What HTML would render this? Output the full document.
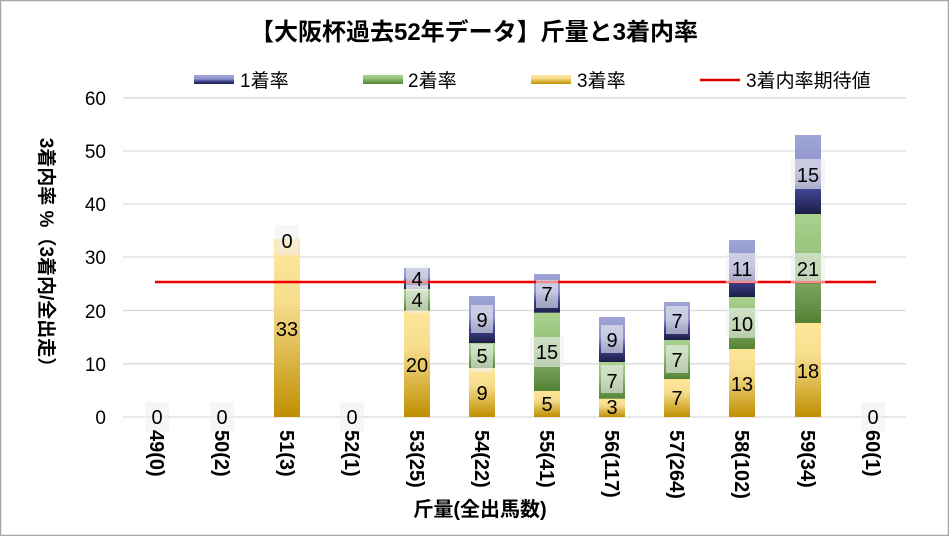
<!DOCTYPE html>
<html><head><meta charset="utf-8"><style>
body{margin:0;background:#fff}
svg{display:block;font-family:"Liberation Sans","Noto Sans CJK JP",sans-serif}
</style></head><body>
<svg width="949" height="536" viewBox="0 0 949 536" xmlns="http://www.w3.org/2000/svg">
<defs>
<linearGradient id="gy" x1="0" y1="0" x2="0" y2="1"><stop offset="0" stop-color="#ffe699"/><stop offset="0.35" stop-color="#f7dd8e"/><stop offset="1" stop-color="#bf8f00"/></linearGradient>
<linearGradient id="gg" x1="0" y1="0" x2="0" y2="1"><stop offset="0" stop-color="#a9d18e"/><stop offset="0.35" stop-color="#98c47c"/><stop offset="1" stop-color="#548235"/></linearGradient>
<linearGradient id="gb" x1="0" y1="0" x2="0" y2="1"><stop offset="0" stop-color="#a0a5d6"/><stop offset="0.45" stop-color="#8d92cb"/><stop offset="0.7" stop-color="#3f4592"/><stop offset="1" stop-color="#1c1d45"/></linearGradient>
</defs>
<rect x="0.5" y="0.5" width="948" height="535" fill="#fff" stroke="#a6a6a6" stroke-width="1.5"/>
<text x="474" y="40" text-anchor="middle" font-size="24" font-weight="bold">【大阪杯過去52年データ】斤量と3着内率</text>
<!-- legend -->
<rect x="194" y="75" width="40" height="9" fill="url(#gb)"/><text x="240" y="87" font-size="19">1着率</text>
<rect x="363" y="75" width="40" height="9" fill="url(#gg)"/><text x="408" y="87" font-size="19">2着率</text>
<rect x="531" y="75" width="40" height="9" fill="url(#gy)"/><text x="577" y="87" font-size="19">3着率</text>
<line x1="700" y1="80" x2="740" y2="80" stroke="#e00000" stroke-width="2.5"/><text x="746" y="87" font-size="19">3着内率期待値</text>
<!-- grid -->
<g stroke="#d9d9d9" stroke-width="1.3">
<line x1="123" y1="97.8" x2="906" y2="97.8"/><line x1="123" y1="151" x2="906" y2="151"/><line x1="123" y1="204" x2="906" y2="204"/><line x1="123" y1="257" x2="906" y2="257"/><line x1="123" y1="310.5" x2="906" y2="310.5"/><line x1="123" y1="363.8" x2="906" y2="363.8"/><line x1="123" y1="417" x2="906" y2="417"/>
</g>
<g font-size="19" text-anchor="end">
<text x="106" y="105">60</text><text x="106" y="158">50</text><text x="106" y="211">40</text><text x="106" y="264">30</text><text x="106" y="318">20</text><text x="106" y="371">10</text><text x="106" y="424">0</text>
</g>
<text transform="translate(40,257) rotate(90)" text-anchor="middle" font-size="19" font-weight="bold">3着内率 %（3着内/全出走）</text>
<!-- bars -->
<g>
<rect x="274" y="239" width="26" height="178" fill="url(#gy)"/>
<rect x="404" y="310.6" width="26" height="106.4" fill="url(#gy)"/>
<rect x="404" y="289" width="26" height="21.6" fill="url(#gg)"/>
<rect x="404" y="268" width="26" height="21" fill="url(#gb)"/>
<rect x="469" y="368" width="26" height="49" fill="url(#gy)"/>
<rect x="469" y="343" width="26" height="25" fill="url(#gg)"/>
<rect x="469" y="296" width="26" height="47" fill="url(#gb)"/>
<rect x="534" y="391" width="26" height="26" fill="url(#gy)"/>
<rect x="534" y="312.7" width="26" height="78.3" fill="url(#gg)"/>
<rect x="534" y="274" width="26" height="38.7" fill="url(#gb)"/>
<rect x="599" y="398.7" width="26" height="18.3" fill="url(#gy)"/>
<rect x="599" y="362" width="26" height="36.7" fill="url(#gg)"/>
<rect x="599" y="317" width="26" height="45" fill="url(#gb)"/>
<rect x="664" y="379" width="26" height="38" fill="url(#gy)"/>
<rect x="664" y="340" width="26" height="39" fill="url(#gg)"/>
<rect x="664" y="302" width="26" height="38" fill="url(#gb)"/>
<rect x="729" y="349" width="26" height="68" fill="url(#gy)"/>
<rect x="729" y="297" width="26" height="52" fill="url(#gg)"/>
<rect x="729" y="240" width="26" height="57" fill="url(#gb)"/>
<rect x="795" y="323" width="26" height="94" fill="url(#gy)"/>
<rect x="795" y="214" width="26" height="109" fill="url(#gg)"/>
<rect x="795" y="135" width="26" height="79" fill="url(#gb)"/>
</g>
<line x1="155" y1="282" x2="876" y2="282" stroke="#ee0000" stroke-width="2.5"/>
<!-- data labels -->
<g font-size="20" text-anchor="middle">
<g fill="rgba(240,240,240,0.6)">
<rect x="145" y="402" width="24" height="30"/><rect x="210" y="402" width="24" height="30"/><rect x="340" y="402" width="24" height="30"/><rect x="861" y="402" width="24" height="30"/>
<rect x="275" y="225" width="24" height="30"/>
<rect x="471" y="305" width="22" height="28"/><rect x="471" y="344" width="22" height="28"/>
<rect x="406" y="285" width="22" height="28"/><rect x="406" y="265" width="22" height="26"/>
<rect x="530" y="337" width="34" height="30"/><rect x="536" y="280" width="22" height="28"/>
<rect x="601" y="325" width="22" height="28"/><rect x="601" y="365" width="22" height="28"/>
<rect x="666" y="306" width="22" height="28"/><rect x="666" y="345" width="22" height="28"/>
<rect x="726" y="253" width="32" height="30"/><rect x="726" y="308" width="32" height="30"/>
<rect x="791" y="159" width="34" height="30"/><rect x="791" y="253" width="34" height="30"/>
</g>
<text x="157" y="424">0</text><text x="222" y="424">0</text><text x="352" y="424">0</text><text x="873" y="424">0</text>
<text x="287" y="248">0</text><text x="287" y="336">33</text>
<text x="417" y="372">20</text><text x="417" y="307">4</text><text x="417" y="286">4</text>
<text x="482" y="400">9</text><text x="482" y="363">5</text><text x="482" y="327">9</text>
<text x="547" y="411">5</text><text x="547" y="359">15</text><text x="547" y="301">7</text>
<text x="612" y="414">3</text><text x="612" y="388">7</text><text x="612" y="347">9</text>
<text x="677" y="405">7</text><text x="677" y="367">7</text><text x="677" y="328">7</text>
<text x="742" y="391">13</text><text x="742" y="331">10</text><text x="742" y="276">11</text>
<text x="808" y="378">18</text><text x="808" y="276">21</text><text x="808" y="182">15</text>
</g>
<!-- x labels -->
<g font-size="20" font-weight="bold">
<text transform="translate(150,430) rotate(90)">49(0)</text>
<text transform="translate(215,430) rotate(90)">50(2)</text>
<text transform="translate(280,430) rotate(90)">51(3)</text>
<text transform="translate(345,430) rotate(90)">52(1)</text>
<text transform="translate(410,430) rotate(90)">53(25)</text>
<text transform="translate(475,430) rotate(90)">54(22)</text>
<text transform="translate(540,430) rotate(90)">55(41)</text>
<text transform="translate(605,430) rotate(90)">56(117)</text>
<text transform="translate(670,430) rotate(90)">57(264)</text>
<text transform="translate(735,430) rotate(90)">58(102)</text>
<text transform="translate(801,430) rotate(90)">59(34)</text>
<text transform="translate(866,430) rotate(90)">60(1)</text>
</g>
<text x="480" y="516" text-anchor="middle" font-size="20" font-weight="bold">斤量(全出馬数)</text>
</svg>
</body></html>
